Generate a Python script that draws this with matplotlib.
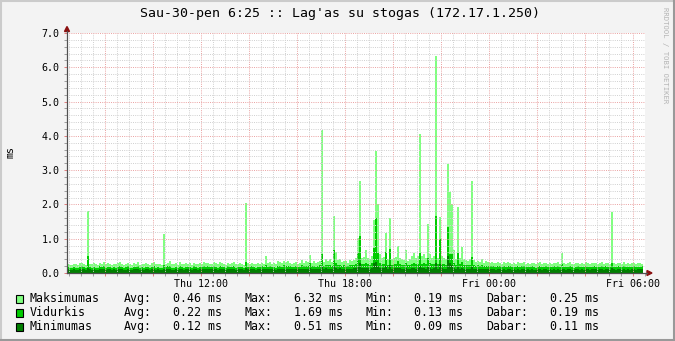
"""
Lag'as su stogas - rrdtool style latency graph

Redraws one day of ping latency (max / avg / min, in ms) the way
rrdtool renders it: stacked step areas, dotted grid, mono font.
"""

import numpy as np
import matplotlib
matplotlib.use("Agg")
import matplotlib.pyplot as plt
from matplotlib.patches import Rectangle, Polygon
from matplotlib.lines import Line2D
from matplotlib.ticker import MultipleLocator, FuncFormatter

W, H = 675, 341
MONO = "DejaVu Sans Mono"

TITLE = "Sau-30-pen 6:25 :: Lag'as su stogas (172.17.1.250)"
START_HOUR = 6 + 25 / 60      # Thu 06:25, hours since Thu 00:00
STEP_HOURS = 5 / 60           # one sample every 5 minutes

# latency in hundredths of a ms, 24 samples per row (= 2 hours)
max_ms = [
    26, 24, 22, 27, 25, 23, 28, 30, 26, 24, 180, 27, 25, 29, 26, 24, 30, 27, 33, 25, 28, 26, 24, 27,
    25, 28, 33, 26, 24, 27, 30, 25, 23, 28, 26, 31, 24, 27, 25, 29, 26, 24, 28, 32, 25, 27, 26, 24,
    115, 27, 30, 35, 26, 25, 28, 24, 33, 27, 25, 29, 26, 28, 24, 30, 27, 25, 29, 26, 33, 28, 30, 27,
    26, 31, 28, 25, 33, 29, 27, 24, 30, 26, 28, 32, 25, 27, 29, 26, 24, 205, 28, 26, 30, 27, 25, 29,
    27, 30, 26, 50, 28, 32, 27, 29, 25, 34, 31, 28, 36, 33, 35, 30, 27, 29, 32, 26, 28, 37, 30, 34,
    31, 53, 30, 34, 28, 32, 36, 418, 33, 40, 35, 40, 31, 165, 60, 38, 40, 33, 36, 34, 30, 37, 35, 38,
    45, 103, 268, 45, 47, 67, 45, 42, 50, 155, 357, 200, 55, 45, 48, 118, 40, 159, 40, 45, 47, 79, 45, 40,
    38, 67, 36, 42, 50, 57, 45, 50, 404, 50, 55, 45, 144, 55, 45, 50, 632, 45, 164, 50, 45, 42, 317, 237,
    200, 67, 40, 193, 45, 77, 40, 38, 35, 40, 269, 38, 33, 36, 32, 41, 30, 34, 31, 29, 33, 30, 28, 32,
    29, 27, 31, 28, 33, 30, 27, 29, 26, 31, 28, 30, 32, 27, 29, 26, 30, 28, 25, 29, 31, 27, 28, 30,
    27, 29, 26, 30, 28, 32, 27, 57, 29, 26, 28, 31, 27, 25, 29, 30, 26, 28, 27, 31, 29, 26, 28, 30,
    28, 26, 29, 31, 27, 30, 28, 26, 179, 29, 27, 30, 28, 26, 31, 27, 29, 26, 28, 30, 27, 29, 28, 25,
]
avg_ms = [
    17, 15, 14, 18, 16, 15, 18, 19, 17, 15, 50, 17, 16, 18, 16, 15, 19, 17, 20, 16, 18, 17, 15, 17,
    16, 18, 20, 17, 15, 17, 19, 16, 15, 18, 17, 19, 15, 17, 16, 18, 17, 15, 18, 20, 16, 17, 16, 15,
    22, 17, 19, 21, 16, 16, 18, 15, 20, 17, 16, 18, 17, 18, 15, 19, 17, 16, 18, 17, 20, 18, 19, 17,
    17, 19, 18, 16, 20, 18, 17, 15, 19, 17, 18, 20, 16, 17, 18, 17, 15, 33, 18, 17, 19, 17, 16, 18,
    17, 19, 17, 24, 18, 20, 17, 18, 16, 21, 19, 18, 22, 20, 21, 19, 17, 18, 20, 17, 18, 22, 19, 21,
    19, 28, 19, 21, 18, 20, 22, 56, 21, 24, 22, 24, 20, 68, 30, 23, 24, 21, 22, 21, 19, 23, 22, 23,
    26, 59, 108, 26, 27, 30, 25, 24, 28, 74, 160, 57, 30, 26, 27, 60, 24, 70, 24, 26, 27, 35, 25, 24,
    23, 30, 22, 24, 27, 28, 25, 27, 57, 27, 29, 25, 45, 28, 25, 27, 167, 25, 99, 27, 25, 24, 135, 55,
    55, 30, 24, 58, 25, 32, 24, 23, 22, 24, 48, 23, 21, 22, 20, 24, 19, 21, 20, 19, 21, 19, 18, 20,
    19, 17, 19, 18, 20, 19, 17, 18, 17, 19, 18, 19, 20, 17, 18, 17, 19, 18, 16, 18, 19, 17, 18, 19,
    17, 18, 17, 19, 18, 20, 17, 25, 18, 17, 18, 19, 17, 16, 18, 19, 17, 18, 17, 19, 18, 17, 18, 19,
    18, 17, 18, 19, 17, 19, 18, 17, 28, 18, 17, 19, 18, 17, 19, 17, 18, 17, 18, 19, 17, 18, 18, 19,
]
min_ms = [
    11, 10, 9, 11, 10, 9, 11, 12, 11, 10, 15, 11, 10, 11, 10, 9, 12, 11, 12, 10, 11, 11, 9, 11,
    10, 11, 12, 11, 9, 10, 12, 10, 9, 11, 11, 12, 9, 11, 10, 11, 11, 9, 11, 12, 10, 11, 10, 9,
    12, 11, 12, 13, 10, 10, 11, 9, 12, 11, 10, 11, 11, 12, 9, 12, 11, 10, 11, 11, 12, 11, 12, 11,
    11, 12, 11, 10, 12, 11, 11, 9, 12, 11, 11, 12, 10, 11, 11, 11, 9, 14, 11, 11, 12, 11, 10, 11,
    11, 12, 11, 13, 11, 12, 11, 11, 10, 13, 12, 11, 13, 12, 13, 12, 11, 11, 12, 11, 11, 13, 12, 12,
    12, 14, 12, 12, 11, 12, 13, 18, 12, 14, 13, 13, 12, 20, 15, 13, 14, 12, 13, 12, 12, 13, 13, 14,
    14, 18, 28, 14, 15, 16, 14, 13, 15, 30, 33, 20, 15, 14, 15, 19, 13, 22, 13, 14, 15, 16, 14, 13,
    13, 15, 12, 13, 14, 15, 13, 14, 20, 14, 15, 13, 17, 15, 13, 14, 30, 13, 25, 14, 13, 13, 51, 30,
    22, 15, 13, 18, 13, 15, 13, 12, 12, 13, 17, 12, 11, 12, 11, 13, 11, 12, 11, 11, 12, 11, 10, 11,
    11, 10, 11, 10, 12, 11, 10, 11, 10, 11, 10, 11, 12, 10, 11, 10, 11, 10, 9, 11, 11, 10, 11, 11,
    10, 11, 10, 11, 10, 12, 10, 13, 11, 10, 11, 11, 10, 9, 11, 11, 10, 11, 10, 11, 11, 10, 11, 11,
    11, 10, 11, 11, 10, 11, 11, 10, 14, 11, 10, 11, 11, 10, 11, 10, 11, 10, 11, 11, 10, 11, 11, 11,
]

series_names = ["Maksimumas", "Vidurkis", "Minimumas"]
series_colors = ["#80FF80", "#00CC00", "#007F00"]
stat_labels = ["Avg:", "Max:", "Min:", "Dabar:"]
stat_values = [
    ["0.46 ms", "6.32 ms", "0.19 ms", "0.25 ms"],
    ["0.22 ms", "1.69 ms", "0.13 ms", "0.19 ms"],
    ["0.12 ms", "0.51 ms", "0.09 ms", "0.11 ms"],
]

time_ticks = [12, 18, 24, 30]
time_labels = ["Thu 12:00", "Thu 18:00", "Fri 00:00", "Fri 06:00"]


def fx(x):
    """Pixel column -> figure fraction."""
    return x / W


def fy(y):
    """Pixel row (from top) -> figure fraction."""
    return 1 - y / H


fig = plt.figure(figsize=(W / 100, H / 100), dpi=100, facecolor="#F3F3F3")
ax = fig.add_axes([fx(67), fy(273), fx(645) - fx(67), fy(33) - fy(273)])
ax.set_facecolor("white")

# stacked step areas, widest first
edges = START_HOUR + np.arange(len(max_ms) + 1) * STEP_HOURS
for vals, color in zip([max_ms, avg_ms, min_ms], series_colors):
    ax.stairs(np.array(vals) / 100, edges, fill=True, color=color,
              antialiased=False, zorder=2)

ax.set_xlim(START_HOUR, START_HOUR + 24 + STEP_HOURS)
ax.set_ylim(0, 7)

# grid: grey dotted minor, pink dotted major, drawn over the data like rrdtool
ax.xaxis.set_major_locator(MultipleLocator(2))
ax.xaxis.set_minor_locator(MultipleLocator(0.5))
ax.yaxis.set_major_locator(MultipleLocator(1))
ax.yaxis.set_minor_locator(MultipleLocator(0.2))
ax.grid(which="minor", color="#D2D2D2", lw=0.72, ls=(0.5, (1, 1.2)), zorder=3)
ax.grid(which="major", color="#EBA6A6", lw=0.72, ls=(0.5, (1, 1.2)), zorder=3)
ax.set_axisbelow(False)

tick_map = dict(zip(time_ticks, time_labels))
ax.xaxis.set_major_formatter(FuncFormatter(
    lambda v, pos: tick_map.get(int(round(v)), "") if abs(v - round(v)) < 1e-6 else ""))
ax.yaxis.set_major_formatter(FuncFormatter(lambda v, pos: f"{v:.1f}"))

ax.tick_params(which="both", length=2, width=0.72, color="#A0A0A0", direction="out")
ax.tick_params(which="major", color="#E08080")
ax.tick_params(axis="x", which="major", pad=2, labelsize=7.2, labelcolor="black")
ax.tick_params(axis="y", which="major", pad=3.5, labelsize=7.2, labelcolor="black")
for lab in ax.get_xticklabels() + ax.get_yticklabels():
    lab.set_fontfamily(MONO)
for s in ax.spines.values():
    s.set_visible(False)

# axis lines with small arrow heads
axis_col = "#505050"
arrow_col = "#8B1010"
fig.add_artist(Line2D([fx(67), fx(67)], [fy(273), fy(31)], color=axis_col, lw=0.9))
fig.add_artist(Line2D([fx(67), fx(647)], [fy(273), fy(273)], color=axis_col, lw=0.9))
fig.add_artist(Polygon([[fx(64.5), fy(31.5)], [fx(69.5), fy(31.5)], [fx(67), fy(26.5)]],
                       closed=True, color=arrow_col, transform=fig.transFigure))
fig.add_artist(Polygon([[fx(647), fy(270.5)], [fx(647), fy(275.5)], [fx(652), fy(273)]],
                       closed=True, color=arrow_col, transform=fig.transFigure))

# title, unit and watermark
fig.text(fx(340.5), fy(13.5), TITLE, ha="center", va="center",
         fontsize=9.5, family=MONO)
fig.text(fx(11), fy(152), "ms", rotation=90, ha="center", va="center",
         fontsize=7.2, family=MONO)
fig.text(fx(665), fy(55), "RRDTOOL / TOBI OETIKER", rotation=270, ha="center",
         va="center", fontsize=5.2, family=MONO, color="#B4B4B4")

# legend rows
stat_x = [124, 244.5, 365.5, 486.4]
value_x = [173, 294, 414.5, 549.7]
row_y = [298.5, 312.5, 326.5]
for name, color, values, y in zip(series_names, series_colors, stat_values, row_y):
    fig.add_artist(Rectangle((fx(15.5), fy(y + 4)), fx(7), 8 / H, facecolor=color,
                             edgecolor="black", lw=0.8, transform=fig.transFigure))
    fig.text(fx(30), fy(y), name, va="center", fontsize=8.4, family=MONO)
    for lab, val, sx, vx in zip(stat_labels, values, stat_x, value_x):
        fig.text(fx(sx), fy(y), lab, va="center", fontsize=8.4, family=MONO)
        fig.text(fx(vx), fy(y), val, va="center", fontsize=8.4, family=MONO)

# rrdtool style shaded frame
fig.add_artist(Line2D([fx(1), fx(1)], [0, 1], color="#CBCBCB", lw=1.5))
fig.add_artist(Line2D([0, 1], [fy(1), fy(1)], color="#CBCBCB", lw=1.5))
fig.add_artist(Line2D([fx(674), fx(674)], [0, 1], color="#999999", lw=1.5))
fig.add_artist(Line2D([0, 1], [fy(340), fy(340)], color="#999999", lw=1.5))

fig.savefig("out.png", dpi=100, facecolor=fig.get_facecolor())
